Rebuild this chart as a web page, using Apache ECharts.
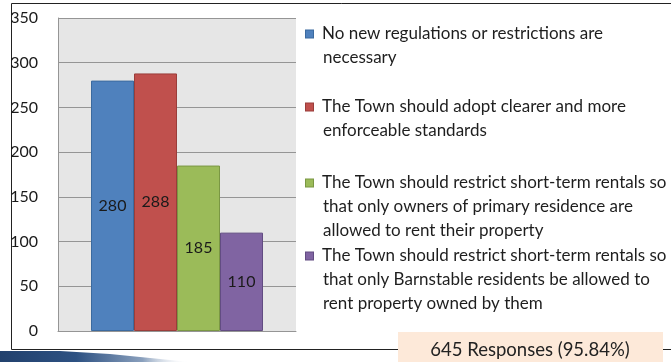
<!DOCTYPE html>
<html><head><meta charset="utf-8">
<script src="https://cdn.jsdelivr.net/npm/echarts@6/dist/echarts.min.js"></script>
<style>html,body{margin:0;padding:0;background:#fff}#c{width:671px;height:362px}</style>
</head><body><div id="c"></div>
<script>
var seriesNames = [
  'No new regulations or restrictions are necessary',
  'The Town should adopt clearer and more enforceable standards',
  'The Town should restrict short-term rentals so that only owners of primary residence are allowed to rent their property',
  'The Town should restrict short-term rentals so that only Barnstable residents be allowed to rent property owned by them'
];
var legendLines = [
  ['No new regulations or restrictions are', 'necessary'],
  ['The Town should adopt clearer and more', 'enforceable standards'],
  ['The Town should restrict short-term rentals so', 'that only owners of primary residence are', 'allowed to rent their property'],
  ['The Town should restrict short-term rentals so', 'that only Barnstable residents be allowed to', 'rent property owned by them']
];
var values = [280, 288, 185, 110];
var yTicks = {min: 0, max: 350, interval: 50};
var footerText = '645 Responses (95.84%)';

var colors = ['#4f81bd', '#c0504d', '#9bbb59', '#8064a2'];
var borders = ['#3b6a9f', '#9a3d3a', '#7a9743', '#624c82'];
var legendTops = [22, 95, 171, 244];
var FONT = 'Lato, "Open Sans", sans-serif';

var chart = echarts.init(document.getElementById('c'));
var series = values.map(function (v, i) {
  return {
    name: seriesNames[i], type: 'bar', data: [v],
    barWidth: 43, barGap: '0%',
    itemStyle: {color: colors[i], borderColor: borders[i], borderWidth: 1},
    label: {show: true, position: 'inside', fontFamily: FONT, fontSize: 16, color: '#1a1a1a'}
  };
});
var legends = seriesNames.map(function (n, i) {
  return {
    data: [n], orient: 'vertical', left: 300, top: legendTops[i], padding: 0,
    itemWidth: 0, itemHeight: 0, selectedMode: false,
    formatter: function () {
      return legendLines[i].map(function (l, j) {
        return (j === 0 ? '{sq|}' : '{sp|}') + '{gp|}{t|' + l + '}';
      }).join('\n');
    },
    textStyle: {
      fontFamily: FONT, fontSize: 17, color: '#1e1e1e', lineHeight: 24,
      rich: {
        sq: {width: 7, height: 7, backgroundColor: colors[i], borderColor: borders[i], borderWidth: 1},
        sp: {width: 8, height: 7},
        gp: {width: 9},
        t: {fontFamily: FONT, fontSize: 17, color: '#1e1e1e', lineHeight: 24}
      }
    }
  };
});
chart.setOption({
  animation: false,
  grid: {left: 58, top: 18, right: 375, bottom: 31, show: true, backgroundColor: '#e6e6e6', borderWidth: 0},
  xAxis: {type: 'category', data: [''], axisTick: {show: false}, axisLabel: {show: false},
    axisLine: {show: true, lineStyle: {color: '#959595', width: 1}}},
  yAxis: {type: 'value', min: yTicks.min, max: yTicks.max, interval: yTicks.interval,
    axisLine: {show: true, lineStyle: {color: '#959595', width: 1}}, axisTick: {show: false},
    axisLabel: {fontFamily: FONT, fontSize: 16, color: '#1a1a1a', margin: 20},
    splitLine: {lineStyle: {color: '#959595', width: 1}}},
  legend: legends,
  series: series,
  graphic: [
    {type: 'polyline', shape: {points: [[671, 3.5], [11.5, 3.5], [11.5, 349.5], [398, 349.5]]}, style: {stroke: '#222', lineWidth: 1, fill: null}},
    {type: 'line', shape: {x1: 663, y1: 349.5, x2: 671, y2: 349.5}, style: {stroke: '#222', lineWidth: 1}},
    {type: 'rect', shape: {x: 398, y: 332, width: 265, height: 30}, style: {fill: '#fde9d9'}},
    {type: 'text', x: 530, y: 350, style: {text: footerText, fontFamily: FONT, fontSize: 18.5, fill: '#222', align: 'center', verticalAlign: 'middle'}},
    {type: 'polygon', shape: {points: [[0, 351], [60, 351], [110, 354], [170, 360], [190, 362], [0, 362]]},
      style: {fill: new echarts.graphic.LinearGradient(0, 0, 1, 0, [
        {offset: 0, color: '#22416d'}, {offset: 0.4, color: '#2d5182'}, {offset: 0.75, color: '#8aa0bd'}, {offset: 1, color: 'rgba(255,255,255,0)'}])}}
  ]
});
</script></body></html>
